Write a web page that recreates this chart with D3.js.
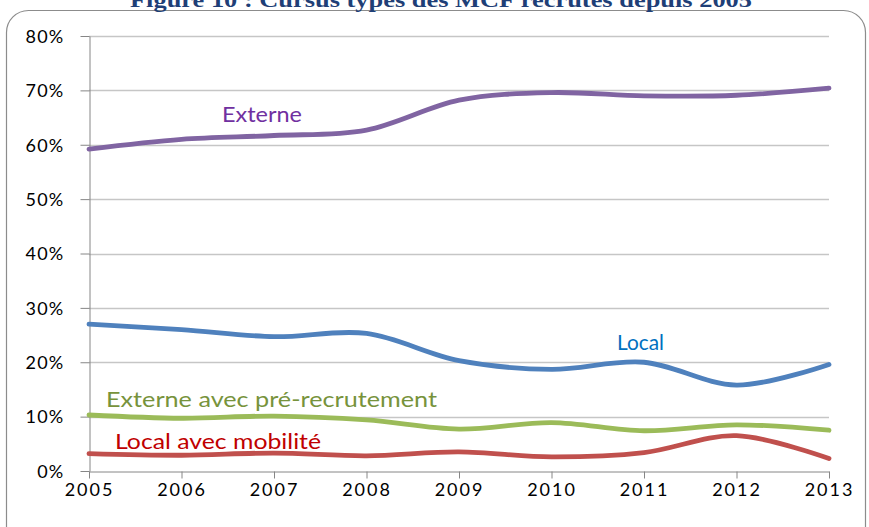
<!DOCTYPE html>
<html lang="fr">
<head>
<meta charset="UTF-8">
<title>Cursus types des MCF recrutés depuis 2005</title>
<script src="https://d3js.org/d3.v7.min.js"></script>
<style>
  body { margin: 0; background: #fff; }
  svg text { font-family: Lato, "Open Sans", sans-serif; }
</style>
</head>
<body>
<div id="chart"></div>
<script>
// données (en %)
const years = [2005, 2006, 2007, 2008, 2009, 2010, 2011, 2012, 2013];
const externe = [59.2, 61.0, 61.7, 62.7, 68.2, 69.6, 69.0, 69.1, 70.4];
const local = [27.0, 26.0, 24.7, 25.3, 20.3, 18.7, 20.0, 15.8, 19.6];
const externePre = [10.3, 9.7, 10.1, 9.4, 7.7, 8.9, 7.4, 8.5, 7.5];
const localMob = [3.2, 2.9, 3.3, 2.8, 3.5, 2.6, 3.4, 6.5, 2.3];
const seriesNames = ["Externe", "Local", "Externe avec pré-recrutement", "Local avec mobilité"];
const yTicks = [0, 10, 20, 30, 40, 50, 60, 70, 80];

// style des courbes et position des étiquettes
const lineColors = ["#8064A2", "#4F81BD", "#9BBB59", "#C0504D"];
const labelColors = ["#7030A0", "#0070C0", "#77933C", "#C00000"];
const labelPos = [[222, 122], [617, 350], [106, 407], [115, 449]];
const labelWidth = [80, 47, 331, 206];

const series = [externe, local, externePre, localMob].map((v, i) => ({
  name: seriesNames[i], values: v, color: lineColors[i], label: labelColors[i],
  lx: labelPos[i][0], ly: labelPos[i][1], w: labelWidth[i]
}));

const W = 869, H = 527;
const svg = d3.select("#chart").append("svg").attr("width", W).attr("height", H);

// cadre arrondi
svg.append("rect")
  .attr("x", 6.5).attr("y", 10.5).attr("width", 859).attr("height", 540)
  .attr("rx", 22).attr("ry", 22)
  .attr("fill", "none").attr("stroke", "#8c8c8c").attr("stroke-width", 1.2);

// titre (coupé en haut dans l'original)
svg.append("text")
  .attr("x", 130).attr("y", 7)
  .attr("textLength", 622).attr("lengthAdjust", "spacingAndGlyphs")
  .style("font-family", "'Liberation Serif', serif")
  .style("font-weight", "bold").style("font-size", "21px")
  .attr("fill", "#1F3F77")
  .text("Figure 10 : Cursus types des MCF recrutés depuis 2005");

const x = d3.scalePoint().domain(years).range([89, 829]);
const y = d3.scaleLinear().domain([0, 80]).range([471, 36]);

// grille
svg.append("g").selectAll("line").data(yTicks.filter(d => d > 0)).join("line")
  .attr("x1", 89).attr("x2", 829)
  .attr("y1", d => Math.round(y(d)) + 0.5).attr("y2", d => Math.round(y(d)) + 0.5)
  .attr("stroke", "#c6c6c6").attr("stroke-width", 1.3);

// axe Y
const yAxis = svg.append("g").attr("transform", "translate(89.5,0)")
  .call(d3.axisLeft(y).tickValues(yTicks).tickFormat(d => d + "%").tickSize(9).tickSizeOuter(0));
yAxis.select(".domain").attr("stroke", "#868686");
yAxis.selectAll(".tick line").attr("stroke", "#868686");
yAxis.selectAll(".tick text").attr("x", -25).attr("dy", "0.35em")
  .style("font-size", "18px").style("letter-spacing", "1.2px").attr("fill", "#000");

// axe X
const xAxis = svg.append("g").attr("transform", "translate(0,471.5)")
  .call(d3.axisBottom(x).tickSize(7).tickSizeOuter(0));
xAxis.select(".domain").attr("stroke", "#868686");
xAxis.selectAll(".tick line").attr("stroke", "#868686");
xAxis.selectAll(".tick text").attr("y", 12)
  .style("font-size", "18px").style("letter-spacing", "2px").attr("fill", "#000");

// courbes lissées
const line = d3.line()
  .x((d, i) => x(years[i]))
  .y(d => y(d))
  .curve(d3.curveCardinal.tension(0));

svg.append("g").selectAll("path").data(series).join("path")
  .attr("d", d => line(d.values))
  .attr("fill", "none")
  .attr("stroke", d => d.color)
  .attr("stroke-width", 4.8)
  .attr("stroke-linecap", "round");

// étiquettes
svg.append("g").selectAll("text").data(series).join("text")
  .attr("x", d => d.lx).attr("y", d => d.ly)
  .attr("textLength", d => d.w).attr("lengthAdjust", "spacingAndGlyphs")
  .attr("fill", d => d.label)
  .style("font-size", "21.5px")
  .text(d => d.name);
</script>
</body>
</html>
